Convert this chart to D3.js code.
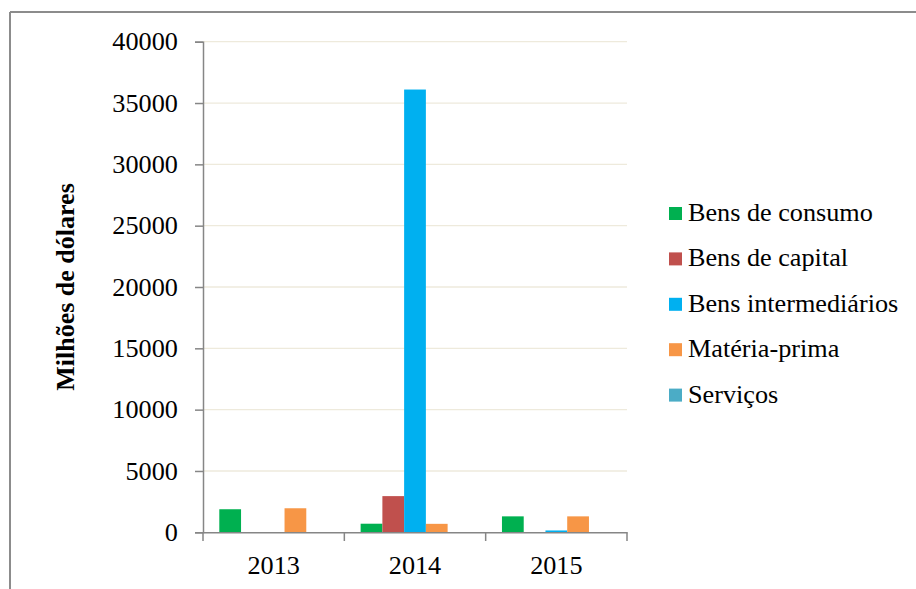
<!DOCTYPE html>
<html>
<head>
<meta charset="utf-8">
<script src="https://cdn.jsdelivr.net/npm/d3@7"></script>
<style>
  body { margin: 0; background: #fff; }
  svg { display: block; }
</style>
</head>
<body>
<svg id="chart" width="916" height="589"></svg>
<script>
// data
const years = ["2013", "2014", "2015"];
const series = ["Bens de consumo", "Bens de capital", "Bens intermediários", "Matéria-prima", "Serviços"];
const colors = ["#00B050", "#C0504D", "#00B0F0", "#F79646", "#4BACC6"];
const bensConsumo = [1880, 700, 1300];
const bensCapital = [0, 2950, 0];
const bensIntermediarios = [0, 36100, 150];
const materiaPrima = [1960, 690, 1300];
const servicos = [0, 0, 0];
const yTicks = [0, 5000, 10000, 15000, 20000, 25000, 30000, 35000, 40000];

const values = [bensConsumo, bensCapital, bensIntermediarios, materiaPrima, servicos];
const data = [];
years.forEach((yr, i) => {
  series.forEach((s, j) => data.push({year: yr, serie: s, color: colors[j], value: values[j][i]}));
});

const svg = d3.select("#chart");
const font = "'Liberation Serif', 'Times New Roman', serif";
const stretch = "scale(1.07,1)"; // reference text is slightly widened

// outer frame (only top and left edges show)
svg.append("line").attr("x1", 10).attr("x2", 916).attr("y1", 12).attr("y2", 12)
  .attr("stroke", "#8c8c8c").attr("stroke-width", 2);
svg.append("line").attr("x1", 10).attr("x2", 10).attr("y1", 12).attr("y2", 589)
  .attr("stroke", "#8c8c8c").attr("stroke-width", 2);

// scales
const x = d3.scaleBand().domain(years).range([203, 627]).padding(0);
const xs = d3.scaleBand().domain(series).range([16.3, x.bandwidth() - 16.3]).padding(0);
const y = d3.scaleLinear().domain([0, 40000]).range([532.3, 41.7]);

// gridlines
svg.append("g").selectAll("line").data(yTicks.filter(d => d > 0)).enter().append("line")
  .attr("x1", 203).attr("x2", 627)
  .attr("y1", d => y(d)).attr("y2", d => y(d))
  .attr("stroke", "#EEEADC").attr("stroke-width", 1.3);

// bars
svg.append("g").selectAll("rect").data(data.filter(d => d.value > 0)).enter().append("rect")
  .attr("x", d => x(d.year) + xs(d.serie))
  .attr("y", d => y(d.value))
  .attr("width", xs.bandwidth())
  .attr("height", d => y(0) - y(d.value))
  .attr("fill", d => d.color);

// y axis
const yAxis = svg.append("g").attr("transform", "translate(203,0)")
  .call(d3.axisLeft(y).tickValues(yTicks).tickSize(8).tickPadding(15.5).tickFormat(d3.format("d")));
yAxis.select(".domain").attr("stroke", "#868686").attr("stroke-width", 1.5);
yAxis.selectAll(".tick line").attr("stroke", "#868686").attr("stroke-width", 1.5);
yAxis.selectAll(".tick text")
  .style("font-family", font).style("font-size", "24.5px").attr("fill", "#000")
  .attr("dy", "0.33em").attr("transform", stretch);

// x axis
const xAxis = svg.append("g").attr("transform", "translate(0,532.3)")
  .call(d3.axisBottom(x).tickSize(0).tickPadding(24));
xAxis.select(".domain").attr("stroke", "#868686").attr("stroke-width", 1.5);
xAxis.selectAll(".tick text")
  .style("font-family", font).style("font-size", "24.5px").attr("fill", "#000")
  .attr("transform", stretch);
svg.append("g").selectAll("line").data([...years.map(d => x(d)), 627]).enter().append("line")
  .attr("x1", d => d).attr("x2", d => d).attr("y1", 532.3).attr("y2", 541)
  .attr("stroke", "#868686").attr("stroke-width", 1.5);

// y title
svg.append("text")
  .attr("transform", "translate(74,287) rotate(-90)")
  .attr("text-anchor", "middle")
  .style("font-family", font).style("font-size", "26px").style("font-weight", "bold")
  .text("Milhões de dólares");

// legend
const legend = svg.append("g").selectAll("g").data(series).enter().append("g")
  .attr("transform", (d, i) => "translate(669," + (213.5 + i * 45.4) + ")");
legend.append("rect").attr("x", 0).attr("y", -6.5).attr("width", 13).attr("height", 13)
  .attr("fill", (d, i) => colors[i]);
legend.append("g").attr("transform", "translate(19,0) " + stretch)
  .append("text").attr("x", 0).attr("y", 7.5)
  .style("font-family", font).style("font-size", "24.5px")
  .text(d => d);
</script>
</body>
</html>
